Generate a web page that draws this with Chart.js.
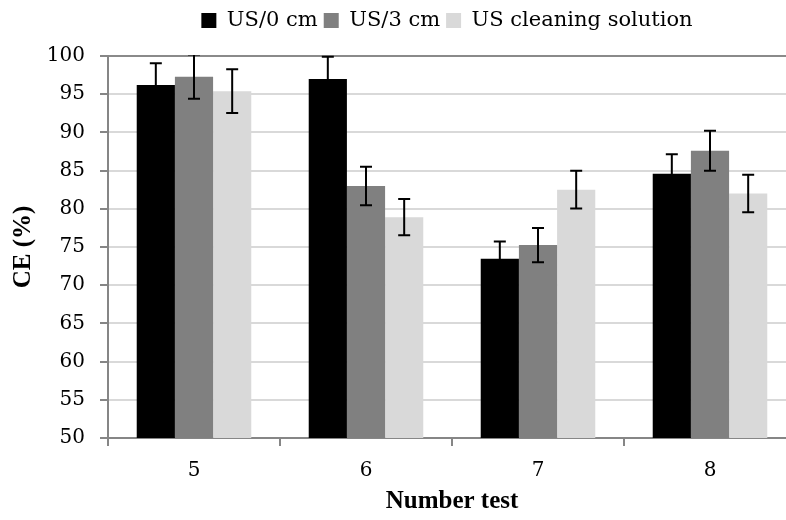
<!DOCTYPE html>
<html>
<head>
<meta charset="utf-8">
<script src="https://cdn.jsdelivr.net/npm/chart.js@4"></script>
<style>
  html, body { margin: 0; padding: 0; background: #fff; }
  #wrap { width: 786px; height: 520px; }
</style>
</head>
<body>
<div id="wrap"><canvas id="ceChart"></canvas></div>
<script>
// du lieu doc tu hinh
const tests = ["5", "6", "7", "8"];
const us0 = [96.2, 97.0, 73.45, 84.6];
const us3 = [97.3, 83.0, 75.25, 87.6];
const usSolution = [95.4, 78.9, 82.5, 82.0];
const err0 = [2.85, 2.9, 2.27, 2.54];
const err3 = [2.9, 2.52, 2.25, 2.62];
const errSolution = [2.85, 2.37, 2.47, 2.45];
const yTicks = [50, 55, 60, 65, 70, 75, 80, 85, 90, 95, 100];

const serif = "'DejaVu Serif', serif";
const serifBold = "'Liberation Serif', 'Times New Roman', serif";

// ve thanh sai so
const errorBars = {
  id: "errorBars",
  afterDatasetsDraw(chart) {
    const c = chart.ctx;
    const area = chart.chartArea;
    const y = chart.scales.y;
    c.save();
    c.beginPath();
    c.rect(area.left, area.top - 1, area.right - area.left, area.bottom - area.top + 1);
    c.clip();
    c.strokeStyle = "#000";
    c.lineWidth = 2;
    chart.data.datasets.forEach((ds, i) => {
      const meta = chart.getDatasetMeta(i);
      meta.data.forEach((bar, j) => {
        const v = ds.data[j];
        const e = ds.errors[j];
        const top = y.getPixelForValue(v + e);
        const bot = y.getPixelForValue(v - e);
        c.beginPath();
        c.moveTo(bar.x, top);
        c.lineTo(bar.x, bot);
        c.moveTo(bar.x - 6, top);
        c.lineTo(bar.x + 6, top);
        c.moveTo(bar.x - 6, bot);
        c.lineTo(bar.x + 6, bot);
        c.stroke();
      });
    });
    c.restore();
  }
};

// chu thich cao hon de vung ve bat dau o y ~ 56
const legendHeight = {
  id: "legendHeight",
  beforeInit(chart) {
    const fit = chart.legend.fit;
    chart.legend.fit = function () {
      fit.call(this);
      this.height = 52;
    };
  }
};

// hinh goc bi cat ben phai: vung ve keo dai qua mep canvas
const extendRight = {
  id: "extendRight",
  afterLayout(chart) {
    const right = 796;
    const x = chart.scales.x;
    chart.chartArea.right = right;
    chart.chartArea.width = right - chart.chartArea.left;
    x.right = right;
    x.width = right - x.left;
    x.configure();
    chart.scales.y._gridLineItems = null;
  }
};

const ctx = document.getElementById("ceChart").getContext("2d");

const draw = () => {
  new Chart(ctx, {
    type: "bar",
    data: {
      labels: tests,
      datasets: [
        { label: "US/0 cm", data: us0, errors: err0, backgroundColor: "#000000" },
        { label: "US/3 cm", data: us3, errors: err3, backgroundColor: "#808080" },
        { label: "US cleaning solution", data: usSolution, errors: errSolution, backgroundColor: "#d9d9d9" }
      ]
    },
    options: {
      responsive: true,
      maintainAspectRatio: false,
      animation: false,
      layout: { padding: { top: 4, right: 0, left: 9, bottom: 0 } },
      datasets: {
        bar: { categoryPercentage: 0.666, barPercentage: 1.0 }
      },
      plugins: {
        legend: {
          position: "top",
          fullSize: false,
          labels: {
            color: "#000",
            font: { family: serif, size: 21 },
            boxWidth: 15,
            boxHeight: 15,
            padding: 6
          }
        },
        tooltip: { enabled: false }
      },
      scales: {
        x: {
          afterFit(axis) { axis.height = 82; },
          grid: {
            offset: true,
            drawOnChartArea: false,
            drawTicks: true,
            tickLength: 8,
            color: "#868686",
            lineWidth: 2
          },
          border: { color: "#868686", width: 2 },
          ticks: { color: "#000", font: { family: serif, size: 20 }, padding: 13 },
          title: {
            display: true,
            text: "Number test",
            color: "#000",
            font: { family: serifBold, size: 25, weight: "bold" },
            padding: { top: 3, bottom: 3 }
          }
        },
        y: {
          min: 50,
          max: 100,
          afterFit(axis) { axis.width = 99; },
          afterBuildTicks(axis) {
            axis.ticks = yTicks.map(v => ({ value: v }));
          },
          grid: {
            color: c => (c.tick && c.tick.value === 100 ? "#8a8a8a" : "#d9d9d9"),
            lineWidth: 2,
            tickLength: 8,
            tickColor: "#868686"
          },
          border: { color: "#868686", width: 2 },
          ticks: { color: "#000", font: { family: serif, size: 20 }, padding: 15 },
          title: {
            display: true,
            text: "CE (%)",
            color: "#000",
            font: { family: serifBold, size: 25, weight: "bold" },
            padding: { top: 0, bottom: 4 }
          }
        }
      }
    },
    plugins: [errorBars, legendHeight, extendRight]
  });
};

document.fonts.load("20px 'DejaVu Serif'").then(draw, draw);
</script>
</body>
</html>
